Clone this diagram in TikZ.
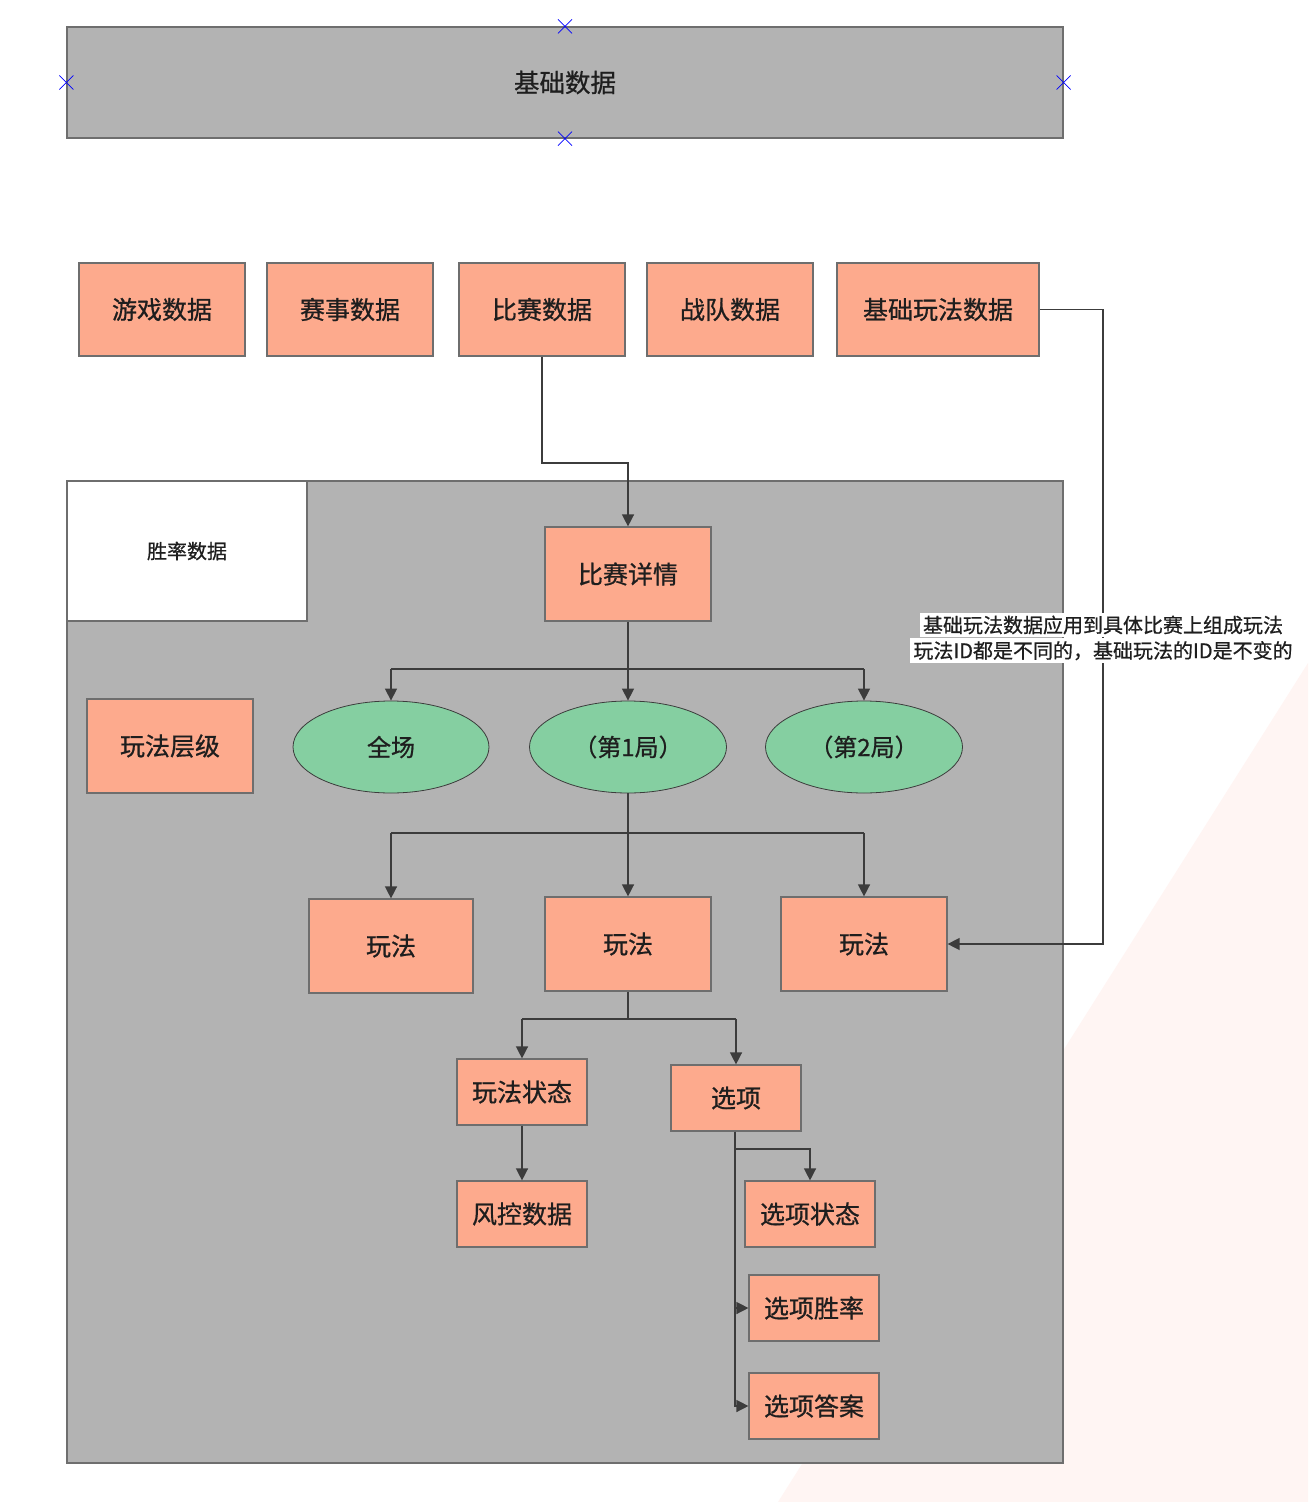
\documentclass[tikz,border=0pt]{standalone}
\usepackage{fontspec}
\newfontfamily\cjk[FakeBold=0.7]{Noto Sans CJK SC}
\usetikzlibrary{arrows.meta,shapes.geometric,calc}
\definecolor{salmon}{HTML}{FDAA8D}
\definecolor{greyfill}{HTML}{B3B3B3}
\definecolor{lineg}{HTML}{6E6E6E}
\definecolor{conn}{HTML}{3C3C3C}
\definecolor{green}{HTML}{85CFA1}
\definecolor{pinkbg}{HTML}{FFF5F3}
\definecolor{txt}{HTML}{1E1E1E}
\tikzset{
  boxa/.style={draw=lineg, fill=salmon, line width=0.6pt, inner sep=0pt, text=txt,
    font=\cjk\fontsize{12.5}{15}\selectfont},
  ell/.style={ellipse, draw=conn, fill=green, line width=0.4pt, inner sep=0pt, text=txt,
    font=\cjk\fontsize{12}{15}\selectfont},
  arr/.style={draw=conn, line width=0.7pt, -{Triangle[length=6pt,width=6pt]}},
  ln/.style={draw=conn, line width=0.7pt},
  mk/.style={draw=blue, line width=0.4pt},
}
\begin{document}
\begin{tikzpicture}[x=0.5pt,y=-0.5pt]
\useasboundingbox (0,0) rectangle (1308,1502);
\fill[white] (0,0) rectangle (1308,1502);
\fill[pinkbg] (1308,663) -- (778,1502) -- (1308,1502) -- cycle;

% top box
\node[draw=lineg, fill=greyfill, line width=0.6pt, minimum width=498pt, minimum height=55.5pt, inner sep=0pt,
  text=txt, font=\cjk\fontsize{12.75}{15}\selectfont] (base) at (565,82.5) {基础数据};
\foreach \a in {north,south,east,west}{
  \draw[mk] ($(base.\a)+(-7,-7)$) -- ($(base.\a)+(7,7)$);
  \draw[mk] ($(base.\a)+(-7,7)$) -- ($(base.\a)+(7,-7)$);
}

% row of data boxes
\node[boxa, minimum width=83pt, minimum height=46.5pt] (game) at (162,309.5) {游戏数据};
\node[boxa, minimum width=83pt, minimum height=46.5pt] (event) at (350,309.5) {赛事数据};
\node[boxa, minimum width=83pt, minimum height=46.5pt] (match) at (542,309.5) {比赛数据};
\node[boxa, minimum width=83pt, minimum height=46.5pt] (team) at (730,309.5) {战队数据};
\node[boxa, minimum width=101pt, minimum height=46.5pt] (basic) at (938,309.5) {基础玩法数据};

% container
\node[draw=lineg, fill=greyfill, line width=0.6pt, minimum width=498pt, minimum height=491pt, inner sep=0pt] (cont) at (565,972) {};
\node[draw=lineg, fill=white, line width=0.6pt, minimum width=120pt, minimum height=70pt, inner sep=0pt,
  text=txt, font=\cjk\fontsize{10}{12}\selectfont] (winrate) at (187,551) {胜率数据};

\node[boxa, minimum width=83pt, minimum height=47pt] (detail) at (628,574) {比赛详情};
\node[boxa, minimum width=83pt, minimum height=47pt] (level) at (170,746) {玩法层级};

\node[ell, minimum width=98pt, minimum height=46pt] (e1) at (391,747) {全场};
\node[ell, minimum width=98.5pt, minimum height=46pt] (e2) at (628,747) {（第1局）};
\node[ell, minimum width=98.5pt, minimum height=46pt] (e3) at (864,747) {（第2局）};

\node[boxa, minimum width=82pt, minimum height=47pt] (p1) at (391,946) {玩法};
\node[boxa, minimum width=83pt, minimum height=47pt] (p2) at (628,944) {玩法};
\node[boxa, minimum width=83pt, minimum height=47pt] (p3) at (864,944) {玩法};

\node[boxa, minimum width=65pt, minimum height=33pt] (state) at (522,1092) {玩法状态};
\node[boxa, minimum width=65pt, minimum height=33pt] (opt) at (736,1098) {选项};
\node[boxa, minimum width=65pt, minimum height=33pt] (risk) at (522,1214) {风控数据};
\node[boxa, minimum width=65pt, minimum height=33pt] (ostate) at (810,1214) {选项状态};
\node[boxa, minimum width=65pt, minimum height=33pt] (owin) at (814,1308) {选项胜率};
\node[boxa, minimum width=65pt, minimum height=33pt] (oans) at (814,1406) {选项答案};

% connectors
\draw[arr] (match.south) -- (match.south |- 0,463) -- (detail.north |- 0,463) -- (detail.north);

\draw[ln] (detail.south) -- (detail.south |- 0,669);
\draw[ln] (e1.north |- 0,669) -- (e3.north |- 0,669);
\draw[arr] (e1.north |- 0,669) -- (e1.north);
\draw[arr] (detail.south |- 0,669) -- (e2.north);
\draw[arr] (e3.north |- 0,669) -- (e3.north);

\draw[ln] (e2.south) -- (e2.south |- 0,833);
\draw[ln] (p1.north |- 0,833) -- (p3.north |- 0,833);
\draw[arr] (p1.north |- 0,833) -- (p1.north);
\draw[arr] (e2.south |- 0,833) -- (p2.north);
\draw[arr] (p3.north |- 0,833) -- (p3.north);

\draw[ln] (p2.south) -- (p2.south |- 0,1019);
\draw[ln] (state.north |- 0,1019) -- (opt.north |- 0,1019);
\draw[arr] (state.north |- 0,1019) -- (state.north);
\draw[arr] (opt.north |- 0,1019) -- (opt.north);

\draw[arr] (state.south) -- (risk.north);

\coordinate (ob) at ($(opt.south)+(-1,0)$);
\draw[arr] (ob) -- (ob |- 0,1149) -- (ostate.north |- 0,1149) -- (ostate.north);
\draw[arr] (ob) -- (ob |- owin.west) -- (owin.west);
\draw[arr] (ob |- owin.west) -- (ob |- oans.west) -- (oans.west);

\draw[arr] (basic.east) -- (1103,309.5) -- (1103,944) -- (p3.east);

% label
\node[fill=white, inner sep=1.5pt, text=txt, font=\cjk\fontsize{10}{12}\selectfont] (lab1) at (1103,625) {基础玩法数据应用到具体比赛上组成玩法};
\node[fill=white, inner sep=1.5pt, text=txt, font=\cjk\fontsize{10}{12}\selectfont, anchor=north] (lab2) at (lab1.south) {玩法ID都是不同的，基础玩法的ID是不变的};
\end{tikzpicture}
\end{document}
